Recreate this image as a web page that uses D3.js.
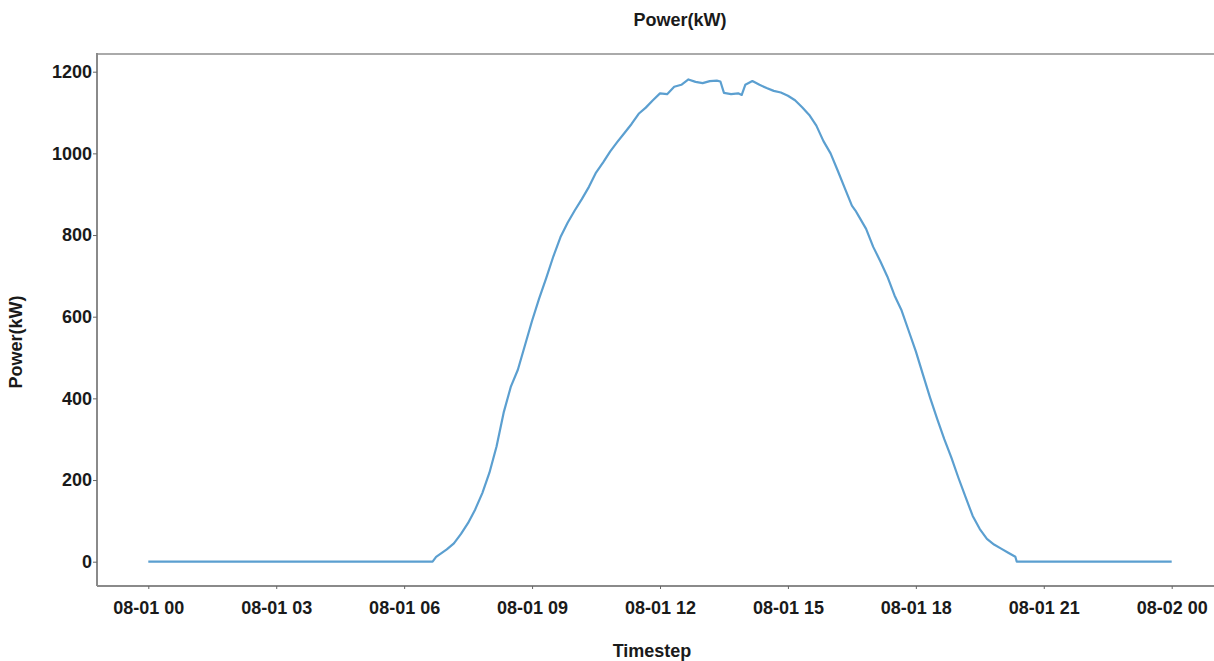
<!DOCTYPE html>
<html>
<head>
<meta charset="utf-8">
<script src="https://cdn.jsdelivr.net/npm/d3@7"></script>
<style>
  html, body { margin: 0; padding: 0; background: #fff; }
  svg { display: block; }
  text { font-family: "Liberation Sans", Arial, sans-serif; font-weight: bold; fill: #1a1a1a; }
</style>
</head>
<body>
<svg id="chart" width="1214" height="661"></svg>
<script>
// ---- data ----
const times = [
  "00:00","06:40","06:45","07:00","07:10","07:20","07:30","07:40","07:50",
  "08:00","08:10","08:20","08:30","08:40","08:50","09:00","09:10","09:20","09:30","09:40","09:50",
  "10:00","10:10","10:20","10:30","10:40","10:50","11:00","11:10","11:20","11:30","11:40","11:50",
  "12:00","12:10","12:20","12:30","12:40","12:50","13:00","13:10","13:20","13:25","13:30","13:40","13:50","13:55",
  "14:00","14:10","14:20","14:30","14:40","14:50","15:00","15:10","15:20","15:30","15:40","15:50",
  "16:00","16:10","16:20","16:30","16:35","16:40","16:50","17:00","17:10","17:20","17:30","17:40","17:50",
  "18:00","18:10","18:20","18:30","18:40","18:50","19:00","19:10","19:20","19:30","19:40","19:50",
  "20:00","20:10","20:20","20:22","24:00"
];
const power = [
  0,0,12,30,45,68,95,128,168,
  218,282,365,428,470,530,590,645,695,748,795,830,
  860,888,918,953,978,1005,1028,1050,1072,1097,1112,1130,
  1147,1145,1163,1168,1181,1175,1172,1177,1178,1176,1148,1145,1147,1143,
  1168,1177,1168,1160,1153,1149,1141,1130,1113,1094,1068,1030,
  1000,958,915,872,860,845,815,771,736,698,652,615,565,
  515,458,402,350,300,255,205,158,112,80,56,42,
  32,22,12,0,0
];
const xTickLabels = ["08-01 00","08-01 03","08-01 06","08-01 09","08-01 12","08-01 15","08-01 18","08-01 21","08-02 00"];
const yTicks = [0,200,400,600,800,1000,1200];

// ---- build ----
const parseT = s => { const [h,m] = s.split(":").map(Number); return new Date(2024, 7, 1, h, m); };
const data = times.map((t,i) => ({ t: parseT(t), v: power[i] }));
const xTickDates = xTickLabels.map((s,i) => new Date(2024, 7, 1, i*3, 0));

const svg = d3.select("#chart");
const frame = { left: 97, right: 1216, top: 54, bottom: 586 };

const x = d3.scaleTime()
  .domain([new Date(2024,7,1,0,0), new Date(2024,7,2,0,0)])
  .range([148.3, 1171.7]);
const y = d3.scaleLinear().domain([0,1200]).range([561.7, 71.7]);

// frame top line
svg.append("line").attr("x1", frame.left).attr("x2", frame.right)
  .attr("y1", frame.top).attr("y2", frame.top)
  .attr("stroke", "#aaaaaa").attr("stroke-width", 2);
// axis lines
svg.append("line").attr("x1", frame.left).attr("x2", frame.left)
  .attr("y1", frame.top - 1).attr("y2", frame.bottom)
  .attr("stroke", "#8a8a8a").attr("stroke-width", 2);
svg.append("line").attr("x1", frame.left).attr("x2", frame.right)
  .attr("y1", frame.bottom).attr("y2", frame.bottom)
  .attr("stroke", "#8a8a8a").attr("stroke-width", 2);

// y axis
const yAxis = d3.axisLeft(y).tickValues(yTicks).tickFormat(d3.format("d")).tickSize(4).tickPadding(1);
const gy = svg.append("g").attr("transform", `translate(${frame.left},0)`).call(yAxis);
gy.select(".domain").remove();
gy.selectAll(".tick line").attr("stroke", "#666");
gy.selectAll(".tick text").style("font-size", "18px").attr("fill", "#1a1a1a");

// x axis
const xAxis = d3.axisBottom(x).tickValues(xTickDates)
  .tickFormat((d,i) => xTickLabels[i]).tickSize(3).tickPadding(12);
const gx = svg.append("g").attr("transform", `translate(0,${frame.bottom})`).call(xAxis);
gx.select(".domain").remove();
gx.selectAll(".tick line").attr("stroke", "#666");
gx.selectAll(".tick text").style("font-size", "18px").attr("fill", "#1a1a1a");

// line
const line = d3.line().x(d => x(d.t)).y(d => y(d.v));
svg.append("path").datum(data)
  .attr("d", line)
  .attr("fill", "none")
  .attr("stroke", "#5b9fd0")
  .attr("stroke-width", 2.2)
  .attr("stroke-linejoin", "round");

// titles
svg.append("text").attr("x", 680).attr("y", 26).attr("text-anchor", "middle")
  .style("font-size", "18px").text("Power(kW)");
svg.append("text").attr("x", 652).attr("y", 657).attr("text-anchor", "middle")
  .style("font-size", "18px").text("Timestep");
svg.append("text").attr("transform", "translate(22,342) rotate(-90)")
  .attr("text-anchor", "middle").style("font-size", "18px").text("Power(kW)");
</script>
</body>
</html>
